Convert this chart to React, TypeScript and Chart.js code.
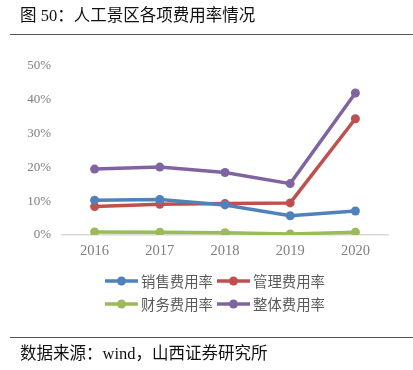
import React, { useEffect, useRef } from "react";
import { Chart, registerables } from "chart.js";

Chart.register(...registerables);

const categories = ["2016", "2017", "2018", "2019", "2020"];
const yTickValues = [0, 10, 20, 30, 40, 50];
const seriesNames = ["销售费用率", "管理费用率", "财务费用率", "整体费用率"];
const salesRate = [10.3, 10.5, 8.9, 5.7, 7.1];
const mgmtRate = [8.4, 9.1, 9.3, 9.5, 34.4];
const finRate = [0.9, 0.8, 0.7, 0.3, 0.8];
const totalRate = [19.5, 20.1, 18.5, 15.2, 42.0];
const seriesColors = ["#4F81BD", "#C0504D", "#9BBB59", "#8064A2"];

const CJK = '"Liberation Serif", "Noto Sans CJK SC", serif';

const legendPlugin = {
  id: "customLegend",
  afterDraw(chart: any) {
    const ctx = chart.ctx;
    ctx.save();
    chart.data.datasets.forEach((ds: any, i: number) => {
      const col = i % 2;
      const row = Math.floor(i / 2);
      const x0 = 105 + col * 112;
      const y = 281 + row * 23;
      ctx.strokeStyle = ds.borderColor;
      ctx.lineWidth = 3.5;
      ctx.lineCap = "butt";
      ctx.beginPath();
      ctx.moveTo(x0, y);
      ctx.lineTo(x0 + 33, y);
      ctx.stroke();
      ctx.fillStyle = ds.borderColor;
      ctx.beginPath();
      ctx.arc(x0 + 16.5, y, 4.5, 0, Math.PI * 2);
      ctx.fill();
      ctx.fillStyle = "#595959";
      ctx.font = '14.4px "Noto Sans CJK SC", sans-serif';
      ctx.textBaseline = "middle";
      ctx.textAlign = "left";
      ctx.fillText(ds.label, x0 + 36, y + 0.5);
    });
    ctx.restore();
  },
};

export default function App() {
  const ref = useRef<HTMLCanvasElement | null>(null);
  useEffect(() => {
    if (!ref.current) return;
    const data = [salesRate, mgmtRate, finRate, totalRate];
    const chart = new Chart(ref.current, {
      type: "line",
      data: {
        labels: categories,
        datasets: seriesNames.map((name, i) => ({
          label: name,
          data: data[i],
          borderColor: seriesColors[i],
          backgroundColor: seriesColors[i],
          borderWidth: 3.5,
          pointRadius: 4.5,
          pointBackgroundColor: seriesColors[i],
          pointBorderWidth: 0,
          tension: 0,
        })),
      },
      options: {
        animation: false,
        responsive: false,
        devicePixelRatio: 1,
        layout: { padding: { top: 66, right: 25, bottom: 105, left: 0 } },
        plugins: { legend: { display: false }, tooltip: { enabled: false } },
        scales: {
          x: {
            offset: true,
            grid: { display: false, drawTicks: false },
            border: { display: true, color: "#D9D9D9", width: 1.5 },
            ticks: {
              padding: 7,
              color: "#7F7F7F",
              font: { family: '"Liberation Serif", serif', size: 14.5 },
            },
            afterFit: (s: any) => {
              s.height = 30;
            },
          },
          y: {
            min: 0,
            max: 50,
            grid: { display: false, drawTicks: false },
            border: { display: false },
            afterBuildTicks: (s: any) => {
              s.ticks = yTickValues.map((v) => ({ value: v }));
            },
            ticks: {
              padding: 11,
              color: "#7F7F7F",
              font: { family: '"Liberation Serif", serif', size: 13 },
              callback: (v: any) => v + "%",
            },
            afterFit: (s: any) => {
              s.width = 62;
            },
          },
        },
      },
      plugins: [legendPlugin],
    });
    return () => chart.destroy();
  }, []);

  return (
    <div
      style={{
        position: "absolute",
        left: 0,
        top: 0,
        width: 413,
        height: 370,
        background: "#fff",
        overflow: "hidden",
      }}
    >
      <canvas
        ref={ref}
        width={413}
        height={370}
        style={{ position: "absolute", left: 0, top: 0, width: 413, height: 370 }}
      />
      <div
        style={{
          position: "absolute",
          left: 20,
          top: 5,
          fontFamily: CJK,
          fontSize: 16.5,
          lineHeight: "22px",
          color: "#111",
          whiteSpace: "nowrap",
        }}
      >
        图 50：人工景区各项费用率情况
      </div>
      <div
        style={{
          position: "absolute",
          left: 10,
          top: 33.5,
          width: 403,
          height: 1.5,
          background: "#555",
        }}
      />
      <div
        style={{
          position: "absolute",
          left: 10,
          top: 336.5,
          width: 403,
          height: 1.5,
          background: "#555",
        }}
      />
      <div
        style={{
          position: "absolute",
          left: 20,
          top: 343,
          fontFamily: CJK,
          fontSize: 16.5,
          lineHeight: "22px",
          color: "#111",
          whiteSpace: "nowrap",
        }}
      >
        数据来源：wind，山西证券研究所
      </div>
    </div>
  );
}
